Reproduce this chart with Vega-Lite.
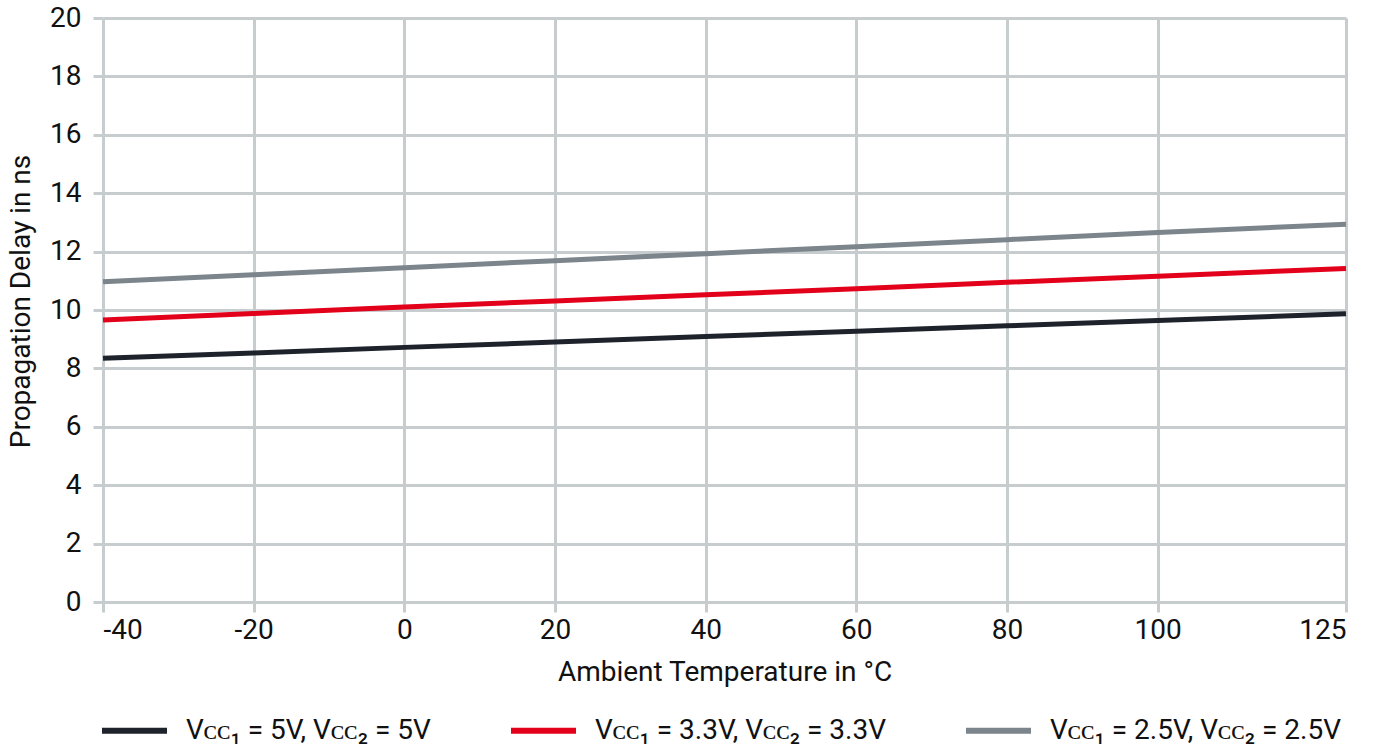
{
  "$schema": "https://vega.github.io/schema/vega-lite/v6.json",
  "width": 1243,
  "height": 584,
  "autosize": {"type": "none"},
  "padding": {"left": 103, "top": 18, "right": 45, "bottom": 147},
  "background": "white",
  "config": {
    "view": {"stroke": null},
    "font": "Roboto",
    "axis": {
      "domain": false,
      "grid": true,
      "gridColor": "#c7ccce",
      "gridWidth": 3,
      "ticks": true,
      "tickColor": "#c7ccce",
      "tickWidth": 3,
      "tickSize": 10,
      "labelFont": "Roboto",
      "labelFontSize": 28,
      "labelColor": "#111111",
      "titleFont": "Roboto",
      "titleFontSize": 28,
      "titleFontWeight": "normal",
      "titleColor": "#111111"
    },
    "legend": {
      "labelFont": "Roboto",
      "labelFontSize": 28,
      "labelColor": "#111111"
    }
  },
  "data": {
    "values": [
      {"series": "Vᴄᴄ₁ = 5V, Vᴄᴄ₂ = 5V", "temp": -40, "delay": 8.35},
      {"series": "Vᴄᴄ₁ = 5V, Vᴄᴄ₂ = 5V", "temp": -20, "delay": 8.53},
      {"series": "Vᴄᴄ₁ = 5V, Vᴄᴄ₂ = 5V", "temp": 0, "delay": 8.72},
      {"series": "Vᴄᴄ₁ = 5V, Vᴄᴄ₂ = 5V", "temp": 20, "delay": 8.9},
      {"series": "Vᴄᴄ₁ = 5V, Vᴄᴄ₂ = 5V", "temp": 40, "delay": 9.09},
      {"series": "Vᴄᴄ₁ = 5V, Vᴄᴄ₂ = 5V", "temp": 60, "delay": 9.27},
      {"series": "Vᴄᴄ₁ = 5V, Vᴄᴄ₂ = 5V", "temp": 80, "delay": 9.46},
      {"series": "Vᴄᴄ₁ = 5V, Vᴄᴄ₂ = 5V", "temp": 100, "delay": 9.64},
      {"series": "Vᴄᴄ₁ = 5V, Vᴄᴄ₂ = 5V", "temp": 125, "delay": 9.87},
      {"series": "Vᴄᴄ₁ = 3.3V, Vᴄᴄ₂ = 3.3V", "temp": -40, "delay": 9.66},
      {"series": "Vᴄᴄ₁ = 3.3V, Vᴄᴄ₂ = 3.3V", "temp": -20, "delay": 9.88},
      {"series": "Vᴄᴄ₁ = 3.3V, Vᴄᴄ₂ = 3.3V", "temp": 0, "delay": 10.1},
      {"series": "Vᴄᴄ₁ = 3.3V, Vᴄᴄ₂ = 3.3V", "temp": 20, "delay": 10.31},
      {"series": "Vᴄᴄ₁ = 3.3V, Vᴄᴄ₂ = 3.3V", "temp": 40, "delay": 10.52},
      {"series": "Vᴄᴄ₁ = 3.3V, Vᴄᴄ₂ = 3.3V", "temp": 60, "delay": 10.73},
      {"series": "Vᴄᴄ₁ = 3.3V, Vᴄᴄ₂ = 3.3V", "temp": 80, "delay": 10.95},
      {"series": "Vᴄᴄ₁ = 3.3V, Vᴄᴄ₂ = 3.3V", "temp": 100, "delay": 11.16},
      {"series": "Vᴄᴄ₁ = 3.3V, Vᴄᴄ₂ = 3.3V", "temp": 125, "delay": 11.42},
      {"series": "Vᴄᴄ₁ = 2.5V, Vᴄᴄ₂ = 2.5V", "temp": -40, "delay": 10.97},
      {"series": "Vᴄᴄ₁ = 2.5V, Vᴄᴄ₂ = 2.5V", "temp": -20, "delay": 11.21},
      {"series": "Vᴄᴄ₁ = 2.5V, Vᴄᴄ₂ = 2.5V", "temp": 0, "delay": 11.45},
      {"series": "Vᴄᴄ₁ = 2.5V, Vᴄᴄ₂ = 2.5V", "temp": 20, "delay": 11.69},
      {"series": "Vᴄᴄ₁ = 2.5V, Vᴄᴄ₂ = 2.5V", "temp": 40, "delay": 11.93},
      {"series": "Vᴄᴄ₁ = 2.5V, Vᴄᴄ₂ = 2.5V", "temp": 60, "delay": 12.17},
      {"series": "Vᴄᴄ₁ = 2.5V, Vᴄᴄ₂ = 2.5V", "temp": 80, "delay": 12.41},
      {"series": "Vᴄᴄ₁ = 2.5V, Vᴄᴄ₂ = 2.5V", "temp": 100, "delay": 12.65},
      {"series": "Vᴄᴄ₁ = 2.5V, Vᴄᴄ₂ = 2.5V", "temp": 125, "delay": 12.94}
    ]
  },
  "mark": {"type": "line", "strokeWidth": 5, "strokeCap": "butt"},
  "encoding": {
    "x": {
      "field": "temp",
      "type": "quantitative",
      "scale": {"domain": [-40, 125], "nice": false, "zero": false},
      "axis": {
        "values": [-40, -20, 0, 20, 40, 60, 80, 100, 125],
        "labelExpr": "replace(datum.label, '−', '-')",
        "labelPadding": 4,
        "title": "Ambient Temperature in °C",
        "titlePadding": 14
      }
    },
    "y": {
      "field": "delay",
      "type": "quantitative",
      "scale": {"domain": [0, 20], "nice": false},
      "axis": {
        "values": [0, 2, 4, 6, 8, 10, 12, 14, 16, 18, 20],
        "labelPadding": 12,
        "title": "Propagation Delay in ns",
        "titlePadding": 14,
        "titleY": 283
      }
    },
    "color": {
      "field": "series",
      "type": "nominal",
      "scale": {
        "domain": ["Vᴄᴄ₁ = 5V, Vᴄᴄ₂ = 5V", "Vᴄᴄ₁ = 3.3V, Vᴄᴄ₂ = 3.3V", "Vᴄᴄ₁ = 2.5V, Vᴄᴄ₂ = 2.5V"],
        "range": ["#1e232b", "#e2001a", "#7b858b"]
      },
      "legend": {
        "title": null,
        "orient": "none",
        "legendX": -4,
        "legendY": 677,
        "direction": "horizontal",
        "columns": 3,
        "columnPadding": 68,
        "symbolType": "stroke",
        "symbolSize": 4225,
        "symbolStrokeWidth": 6,
        "labelOffset": 16,
        "labelLimit": 500
      }
    }
  }
}
